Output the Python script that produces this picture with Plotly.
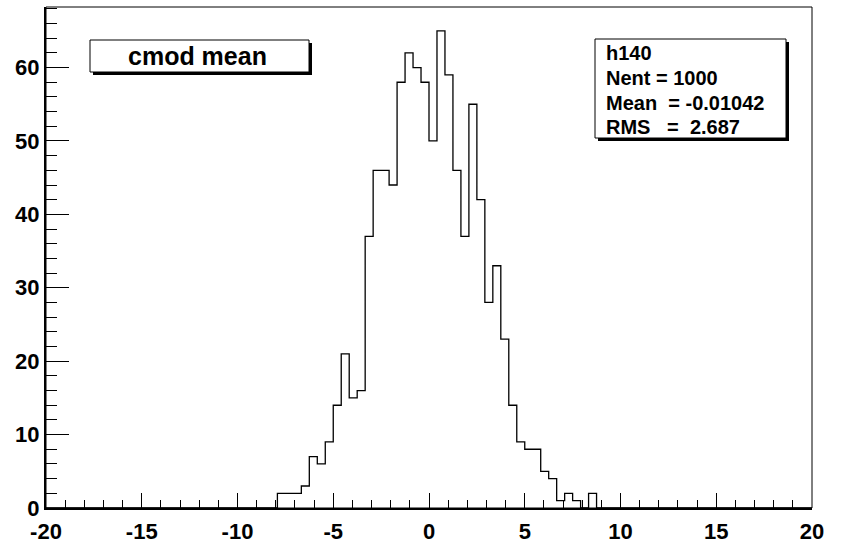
import plotly.graph_objects as go

# Histogram definition (ROOT TH1 "h140")
x_min, x_max, n_bins = -20.0, 20.0, 96
first_bin = 29
counts_nonzero = [2, 2, 2, 3, 7, 6, 9, 14, 21, 15, 16, 37, 46, 46, 44, 58, 62, 60, 58, 50,
                  65, 59, 46, 37, 55, 42, 28, 33, 23, 14, 9, 8, 8, 5, 4, 1, 2, 1, 0, 2]
title_text = "cmod mean"
stats_lines = ["h140", "Nent = 1000", "Mean\u00a0\u00a0= -0.01042", "RMS\u00a0\u00a0\u00a0=\u00a0\u00a02.687"]
x_tickvals = [-20, -15, -10, -5, 0, 5, 10, 15, 20]
x_ticktext = ["-20", "-15", "-10", "-5", "0", "5", "10", "15", "20"]
y_tickvals = [0, 10, 20, 30, 40, 50, 60]
y_ticktext = ["0", "10", "20", "30", "40", "50", "60"]

counts = [0] * first_bin + counts_nonzero
counts += [0] * (n_bins - len(counts))
bw = (x_max - x_min) / n_bins
edges = [x_min + i * bw for i in range(n_bins + 1)]
ymax = 1.05 * max(counts)

W, H = 844, 544
L, R, T, B = 46, 812, 7, 508


def px(xp):
    return (xp - L) / (R - L)


def py(yp):
    return (B - yp) / (B - T)


fig = go.Figure()
fig.add_trace(go.Scatter(
    x=edges, y=counts + [counts[-1]], mode="lines", line_shape="hv",
    line=dict(color="black", width=1.3), hoverinfo="skip", showlegend=False))

FONT = "Liberation Sans, Arial, Helvetica, sans-serif"
shapes = []
shapes.append(dict(type="rect", xref="paper", yref="paper", x0=0, x1=1, y0=0, y1=1,
                   line=dict(color="black", width=1), layer="above"))


def box(x0, y0, x1, y1, sh=3):
    return [
        dict(type="rect", xref="paper", yref="paper", x0=px(x0 + sh), x1=px(x1 + sh),
             y0=py(y1 + sh), y1=py(y0 + sh), fillcolor="black", line=dict(width=0), layer="above"),
        dict(type="rect", xref="paper", yref="paper", x0=px(x0), x1=px(x1),
             y0=py(y1), y1=py(y0), fillcolor="white", line=dict(color="black", width=1), layer="above"),
    ]


shapes += box(90, 40, 309, 72)
shapes += box(595, 39, 786, 138)

annotations = [dict(text=title_text, xref="paper", yref="paper", x=px(197), y=py(56),
                    xanchor="center", yanchor="middle", showarrow=False,
                    font=dict(family=FONT, size=25, color="black", weight="bold"))]
line_ys = [53.3, 78.3, 102.7, 127.3]
for t, yy in zip(stats_lines, line_ys):
    annotations.append(dict(text=t, xref="paper", yref="paper", x=px(604), y=py(yy),
                            xanchor="left", yanchor="middle", showarrow=False,
                            font=dict(family=FONT, size=20, color="black", weight="bold")))

fig.update_layout(
    width=W, height=H, margin=dict(l=L, r=W - R, t=T, b=H - B, pad=0, autoexpand=False),
    plot_bgcolor="white", paper_bgcolor="white",
    shapes=shapes, annotations=annotations,
    xaxis=dict(range=[x_min, x_max], tickvals=x_tickvals, ticktext=x_ticktext,
               ticks="inside", ticklen=15, automargin=False, ticklabelstandoff=3,
               tickwidth=1, tickcolor="black", showgrid=False, zeroline=False,
               showline=True, linewidth=2, linecolor="black",
               tickfont=dict(family=FONT, size=22, color="black", weight="bold"),
               minor=dict(ticks="inside", ticklen=8, dtick=1, tick0=0, tickcolor="black", tickwidth=1)),
    yaxis=dict(range=[0, ymax], tickvals=y_tickvals, ticktext=y_ticktext,
               ticks="inside", ticklen=23, automargin=False,
               tickwidth=1, tickcolor="black", showgrid=False, zeroline=False,
               showline=True, linewidth=2, linecolor="black",
               tickfont=dict(family=FONT, size=22, color="black", weight="bold"),
               minor=dict(ticks="inside", ticklen=11, dtick=2, tick0=0, tickcolor="black", tickwidth=1)),
)
fig.write_html("out.html", config={"displayModeBar": False},
               post_script="document.body.style.margin='0';document.body.style.padding='0';")
